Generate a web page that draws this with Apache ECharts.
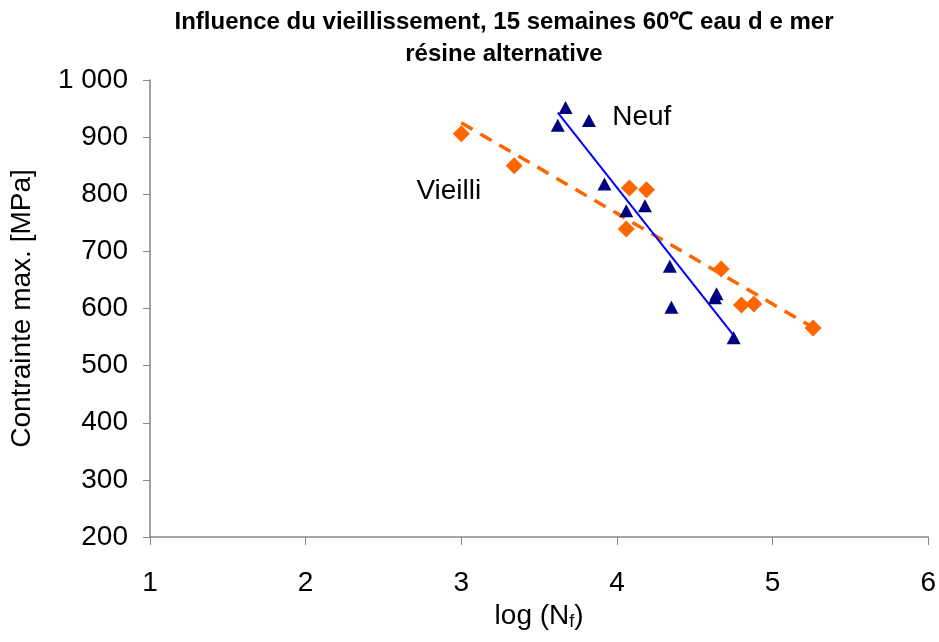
<!DOCTYPE html>
<html>
<head>
<meta charset="utf-8">
<script src="https://cdn.jsdelivr.net/npm/echarts@6/dist/echarts.min.js"></script>
<style>
  html, body { margin: 0; padding: 0; background: #fff; }
  #chart { width: 939px; height: 642px; }
</style>
</head>
<body>
<div id="chart"></div>
<script>
// Neuf (triangles) : [log(Nf), contrainte max]
const neufPoints = [
  [3.62, 921], [3.67, 952], [3.82, 929], [3.92, 818], [4.06, 771],
  [4.18, 780], [4.34, 674], [4.35, 602], [4.63, 619], [4.64, 626], [4.75, 549]
];
// Vieilli (losanges)
const vieilliPoints = [
  [3.0, 906], [3.34, 850], [4.06, 739], [4.08, 811], [4.19, 808],
  [4.67, 669], [4.80, 606], [4.88, 608], [5.26, 566]
];
// tendances
const neufTrend = [[3.62, 943], [4.75, 553]];
const vieilliTrend = [[3.0, 925], [5.29, 562]];

const xTicks = { min: 1, max: 6, interval: 1 };
const yTicks = { min: 200, max: 1000, interval: 100 };

const font = "'Liberation Sans', Arial, sans-serif";
const chart = echarts.init(document.getElementById("chart"));

chart.setOption({
  animation: false,
  textStyle: { fontFamily: font },
  title: {
    text: "Influence du vieillissement, 15 semaines 60\u2103 eau d e mer\nrésine alternative",
    left: 499,
    textAlign: "center",
    top: 1,
    textStyle: { fontSize: 24, fontWeight: "bold", color: "#000", lineHeight: 32, fontFamily: font },
  },
  grid: { left: 150, right: 9, top: 80, bottom: 105 },
  xAxis: {
    type: "value",
    min: xTicks.min,
    max: xTicks.max,
    interval: xTicks.interval,
    name: "{a|log (N}{s|f}{a|)}",
    nameLocation: "middle",
    nameGap: 60,
    nameTextStyle: {
      rich: {
        a: { fontSize: 28, color: "#000", fontFamily: font },
        s: { fontSize: 18, color: "#000", fontFamily: font, verticalAlign: "bottom", padding: [12, 0, 0, 0] },
      },
    },
    axisLine: { lineStyle: { color: "#868686", width: 1.5 } },
    axisTick: { length: 8, lineStyle: { color: "#868686" } },
    axisLabel: { fontSize: 28, color: "#000", margin: 32 },
    splitLine: { show: false },
  },
  yAxis: {
    type: "value",
    min: yTicks.min,
    max: yTicks.max,
    interval: yTicks.interval,
    name: "Contrainte max. [MPa]",
    nameLocation: "middle",
    nameGap: 114,
    nameTextStyle: { fontSize: 28, color: "#000" },
    axisLine: { show: true, lineStyle: { color: "#868686", width: 1.5 } },
    axisTick: { show: true, length: 7, lineStyle: { color: "#868686" } },
    axisLabel: {
      fontSize: 28,
      color: "#000",
      margin: 22,
      formatter: (v) => (v >= 1000 ? String(v).replace(/\B(?=(\d{3})+(?!\d))/g, " ") : String(v)),
    },
    splitLine: { show: false },
  },
  series: [
    {
      name: "Vieilli tendance",
      type: "line",
      data: vieilliTrend,
      symbol: "none",
      lineStyle: { color: "#FF6600", width: 3.5, type: [13, 9] },
      z: 2,
    },
    {
      name: "Neuf tendance",
      type: "line",
      data: neufTrend,
      symbol: "none",
      lineStyle: { color: "#0000FF", width: 2 },
      z: 2,
    },
    {
      name: "Vieilli",
      type: "scatter",
      data: vieilliPoints,
      symbol: "diamond",
      symbolSize: 17,
      itemStyle: { color: "#FF6600", opacity: 1 },
      z: 3,
      markPoint: {
        symbol: "circle",
        symbolSize: 0,
        label: { show: true, formatter: "Vieilli", fontSize: 28, color: "#000", fontFamily: font },
        data: [{ coord: [2.92, 806] }],
      },
    },
    {
      name: "Neuf",
      type: "scatter",
      data: neufPoints,
      symbol: "triangle",
      symbolSize: [14, 13],
      itemStyle: { color: "#000080", opacity: 1 },
      z: 4,
      markPoint: {
        symbol: "circle",
        symbolSize: 0,
        label: { show: true, formatter: "Neuf", fontSize: 28, color: "#000", fontFamily: font },
        data: [{ coord: [4.16, 935] }],
      },
    },
  ],
});
</script>
</body>
</html>
